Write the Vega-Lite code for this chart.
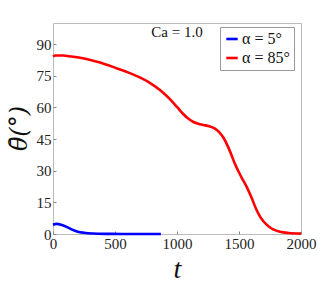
{
  "$schema": "https://vega.github.io/schema/vega-lite/v6.json",
  "autosize": "none",
  "padding": {"left": 53, "top": 23, "right": 31, "bottom": 58},
  "width": 248,
  "height": 211,
  "background": "white",
  "config": {
    "view": {"stroke": "#bbbbbb", "strokeWidth": 1},
    "font": "Liberation Serif",
    "axis": {"labelFont": "Liberation Serif", "titleFont": "Liberation Serif", "labelOverlap": false},
    "legend": {"labelFont": "Liberation Serif"}
  },
  "datasets": {
    "curves": [
      {"t": 0, "theta": 4.4, "series": "α = 5°"},
      {"t": 30, "theta": 4.8, "series": "α = 5°"},
      {"t": 70, "theta": 4.3, "series": "α = 5°"},
      {"t": 110, "theta": 3.4, "series": "α = 5°"},
      {"t": 150, "theta": 2.2, "series": "α = 5°"},
      {"t": 200, "theta": 1.1, "series": "α = 5°"},
      {"t": 250, "theta": 0.6, "series": "α = 5°"},
      {"t": 320, "theta": 0.25, "series": "α = 5°"},
      {"t": 420, "theta": 0.08, "series": "α = 5°"},
      {"t": 550, "theta": 0.03, "series": "α = 5°"},
      {"t": 700, "theta": 0.01, "series": "α = 5°"},
      {"t": 870, "theta": 0.0, "series": "α = 5°"},
      {"t": 0, "theta": 84.2, "series": "α = 85°"},
      {"t": 20, "theta": 84.6, "series": "α = 85°"},
      {"t": 80, "theta": 84.6, "series": "α = 85°"},
      {"t": 150, "theta": 84.1, "series": "α = 85°"},
      {"t": 240, "theta": 83.3, "series": "α = 85°"},
      {"t": 323, "theta": 82.1, "series": "α = 85°"},
      {"t": 420, "theta": 80.5, "series": "α = 85°"},
      {"t": 511, "theta": 78.6, "series": "α = 85°"},
      {"t": 610, "theta": 76.5, "series": "α = 85°"},
      {"t": 700, "theta": 74.2, "series": "α = 85°"},
      {"t": 790, "theta": 71.3, "series": "α = 85°"},
      {"t": 870, "theta": 67.9, "series": "α = 85°"},
      {"t": 941, "theta": 64.0, "series": "α = 85°"},
      {"t": 1000, "theta": 60.2, "series": "α = 85°"},
      {"t": 1048, "theta": 57.0, "series": "α = 85°"},
      {"t": 1090, "theta": 54.7, "series": "α = 85°"},
      {"t": 1129, "theta": 53.2, "series": "α = 85°"},
      {"t": 1170, "theta": 52.3, "series": "α = 85°"},
      {"t": 1210, "theta": 51.7, "series": "α = 85°"},
      {"t": 1260, "theta": 51.1, "series": "α = 85°"},
      {"t": 1300, "theta": 50.2, "series": "α = 85°"},
      {"t": 1340, "theta": 48.3, "series": "α = 85°"},
      {"t": 1375, "theta": 45.6, "series": "α = 85°"},
      {"t": 1411, "theta": 41.4, "series": "α = 85°"},
      {"t": 1440, "theta": 37.3, "series": "α = 85°"},
      {"t": 1465, "theta": 33.5, "series": "α = 85°"},
      {"t": 1519, "theta": 27.0, "series": "α = 85°"},
      {"t": 1560, "theta": 22.6, "series": "α = 85°"},
      {"t": 1600, "theta": 17.4, "series": "α = 85°"},
      {"t": 1640, "theta": 11.6, "series": "α = 85°"},
      {"t": 1670, "theta": 8.2, "series": "α = 85°"},
      {"t": 1700, "theta": 5.8, "series": "α = 85°"},
      {"t": 1740, "theta": 3.6, "series": "α = 85°"},
      {"t": 1780, "theta": 2.1, "series": "α = 85°"},
      {"t": 1830, "theta": 1.1, "series": "α = 85°"},
      {"t": 1900, "theta": 0.5, "series": "α = 85°"},
      {"t": 2000, "theta": 0.2, "series": "α = 85°"}
    ],
    "note": [
      {"t": 1000, "theta": 95.5, "label": "Ca = 1.0"}
    ]
  },
  "encoding": {
    "x": {
      "field": "t", "type": "quantitative",
      "scale": {"domain": [0, 2000], "nice": false},
      "axis": {
        "values": [0, 500, 1000, 1500, 2000], "format": "d",
        "grid": false, "domain": false, "labelOverlap": false,
        "tickSize": -3, "tickColor": "#888888",
        "labelFont": "Liberation Serif", "labelFontSize": 15, "labelColor": "#222222",
        "labelPadding": 5, "labelFlush": false,
        "title": "t", "titleFont": "Liberation Serif", "titleFontStyle": "italic",
        "titleFontWeight": "normal", "titleFontSize": 28, "titleColor": "#111111",
        "titlePadding": 4
      }
    },
    "y": {
      "field": "theta", "type": "quantitative",
      "scale": {"domain": [0, 100], "nice": false},
      "axis": {
        "values": [0, 15, 30, 45, 60, 75, 90], "format": "d",
        "grid": false, "domain": false, "labelOverlap": false,
        "tickSize": -3, "tickColor": "#888888",
        "labelFont": "Liberation Serif", "labelFontSize": 15, "labelColor": "#222222",
        "labelPadding": 5,
        "title": "θ̄(°)", "titleFont": "DejaVu Serif", "titleFontStyle": "italic",
        "titleFontWeight": "normal", "titleFontSize": 24, "titleColor": "#111111",
        "titleX": -34, "titleY": 105, "titleAlign": "center", "titleBaseline": "middle"
      }
    }
  },
  "layer": [
    {
      "data": {"name": "curves"},
      "mark": {"type": "line", "strokeWidth": 2.6, "interpolate": "monotone"},
      "encoding": {
        "color": {
          "field": "series", "type": "nominal",
          "scale": {"domain": ["α = 5°", "α = 85°"], "range": ["#0000ff", "#ff0000"]},
          "legend": {
            "title": null, "orient": "none", "legendX": 167, "legendY": 4,
            "symbolType": "stroke", "symbolStrokeWidth": 2.6, "symbolSize": 130,
            "labelFont": "Liberation Serif", "labelFontSize": 16, "labelColor": "#111111",
            "labelOffset": 2, "rowPadding": 3,
            "strokeColor": "#999999", "fillColor": "white", "padding": 4, "cornerRadius": 0
          }
        }
      }
    },
    {
      "data": {"name": "note"},
      "mark": {"type": "text", "font": "Liberation Serif", "fontSize": 15, "color": "#111111"},
      "encoding": {
        "text": {"field": "label"}
      }
    }
  ]
}
